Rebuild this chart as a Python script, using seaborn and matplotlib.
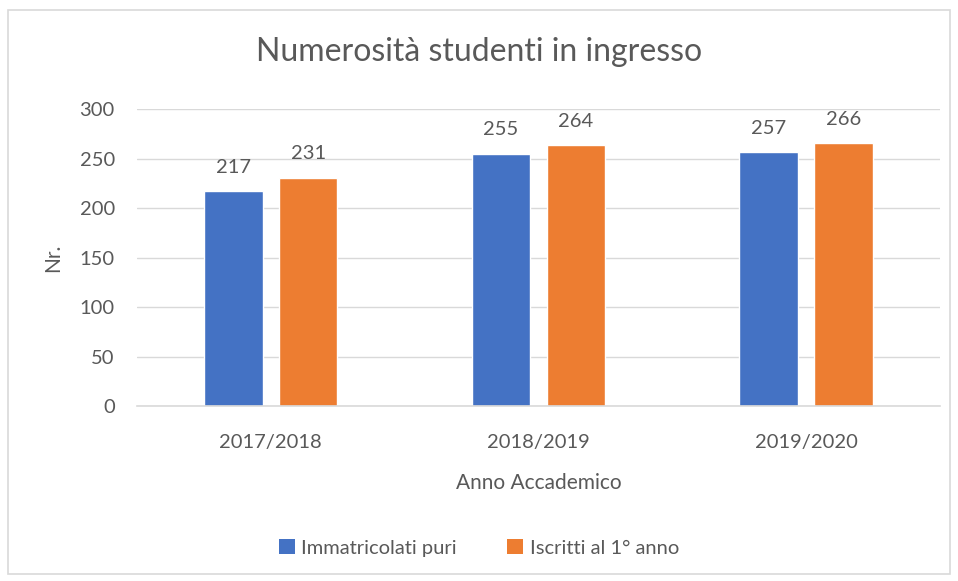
import matplotlib
matplotlib.use("Agg")
import matplotlib.pyplot as plt
import seaborn as sns
import pandas as pd
from matplotlib.patches import Rectangle, Patch

anni = ["2017/2018", "2018/2019", "2019/2020"]
immatricolati = [217, 255, 257]
iscritti = [231, 264, 266]
serie = ["Immatricolati puri", "Iscritti al 1° anno"]
colori = ["#4472C4", "#ED7D31"]

df = pd.DataFrame({
    "anno": anni * 2,
    "valore": immatricolati + iscritti,
    "serie": [serie[0]] * 3 + [serie[1]] * 3,
})

sns.set_theme(style="white")
plt.rcParams["font.family"] = ["Lato", "DejaVu Sans"]
grigio = "#595959"

fig = plt.figure(figsize=(9.58, 5.81), dpi=100)
ax = fig.add_axes([0.143, 0.301, 0.838, 0.511])

sns.barplot(data=df, x="anno", y="valore", hue="serie", palette=colori,
            width=0.56, gap=0.22, ax=ax, legend=False, saturation=1)

for c in ax.containers:
    ax.bar_label(c, padding=11, fontsize=14.5, color=grigio)

ax.set_ylim(0, 300)
ax.set_xlim(-0.5, 2.5)
ax.set_yticks(range(0, 301, 50))
ax.yaxis.grid(True, color="#D9D9D9", linewidth=1)
ax.set_axisbelow(True)
for s in ["top", "right", "left"]:
    ax.spines[s].set_visible(False)
ax.spines["bottom"].set_color("#D9D9D9")
ax.spines["bottom"].set_linewidth(1.2)
ax.tick_params(axis="both", length=0, labelsize=14.5, colors=grigio)
ax.tick_params(axis="x", pad=20)
ax.tick_params(axis="y", pad=16)

ax.set_xlabel("Anno Accademico", fontsize=15, color=grigio, labelpad=16)
ax.set_ylabel("Nr.", fontsize=15, color=grigio, labelpad=12)
fig.text(0.5, 0.91, "Numerosità studenti in ingresso", ha="center", va="center",
         fontsize=23, color=grigio)

handles = [Patch(facecolor=c, edgecolor="none") for c in colori]
fig.legend(handles, serie, loc="center", bbox_to_anchor=(0.5, 0.057), ncol=2,
           frameon=False, fontsize=14.5, labelcolor=grigio, handlelength=0.8,
           handleheight=0.8, handletextpad=0.3, columnspacing=2.5)

fig.patches.append(Rectangle((0.008, 0.012), 0.984, 0.97, transform=fig.transFigure,
                             fill=False, edgecolor="#D9D9D9", linewidth=1.2))

fig.savefig("out.png", dpi=100)
